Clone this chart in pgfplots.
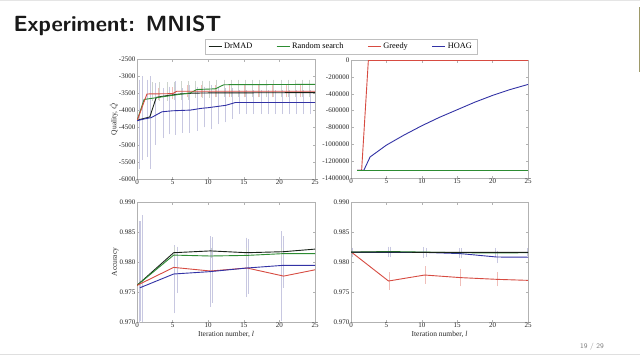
\documentclass[border=0pt]{standalone}
\usepackage{pgfplots}
\pgfplotsset{compat=1.18}
\usepackage{fontspec}
\newfontfamily\tnr{Liberation Serif}
\definecolor{cdr}{RGB}{25,35,25}
\definecolor{crs}{RGB}{45,140,50}
\definecolor{cgr}{RGB}{215,75,65}
\definecolor{cho}{RGB}{50,50,165}
\definecolor{ebb}{RGB}{200,200,225}
\definecolor{ebg}{RGB}{205,212,205}
\definecolor{ebr}{RGB}{240,190,185}
\pgfplotsset{
  panel/.style={scale only axis, anchor=south west, xmin=0, xmax=25, xtick={0,5,...,25},
    axis line style={gray!60, line width=0.5pt},
    tick style={gray!60, line width=0.4pt},
    major tick length=2.5pt, tick align=inside,
    tick label style={font=\tnr\fontsize{7}{8}\selectfont, text=black!85},
    label style={font=\tnr\fontsize{7.5}{9}\selectfont, text=black!85},
    /pgf/number format/assume math mode=true,
    /pgf/number format/1000 sep={},
    scaled y ticks=false,
    xticklabel style={inner sep=1pt},
    yticklabel style={inner sep=1.5pt},
    legend image code/.code={\draw[##1, line width=0.9pt] (0pt,0pt) -- (13pt,0pt);},
  },
  ln/.style={line width=0.9pt, color=#1, mark=none},
  eb/.style={forget plot, only marks, mark=none, mark size=0pt, color=#1, error bars/.cd, y dir=both, y explicit, error bar style={#1, line width=0.6pt}, error mark options={#1, mark size=1.6pt, line width=0.6pt}},
}
\begin{document}
\begin{tikzpicture}
\useasboundingbox (0,0) rectangle (640pt,360pt);
\fill[white] (0,0) rectangle (640pt,360pt);
\draw[gray!20] (0,359.5pt) -- (640pt,359.5pt);
\draw[gray!25] (0,6pt) -- (640pt,6pt);
\fill[black!45!olive!60] (638.5pt,288pt) rectangle (640pt,353pt);
\node[anchor=base west, font=\sffamily\bfseries\fontsize{22}{25}\selectfont, text=black!90] at (10pt,329pt) {Experiment: MNIST};
\node[font=\sffamily\fontsize{7}{8}\selectfont, text=gray] at (592pt,13pt) {19 / 29};

% ---------------- top left ----------------
\begin{axis}[panel, at={(137pt,181pt)}, width=178pt, height=120pt,
  ymin=-6000, ymax=-2500, ytick={-6000,-5500,...,-2500},
  yticklabel style={/pgf/number format/fixed},
  ylabel={Quality, $\hat{Q}$}, ylabel style={yshift=-4pt},
  legend style={at={(1.146,1.104)}, anchor=center, draw=gray!50, line width=0.4pt,
    font=\tnr\fontsize{8.3}{9}\selectfont, legend columns=4,
    /tikz/every even column/.append style={column sep=22pt}},
  legend cell align=left]
\addplot[eb=ebb] table[y error=e] {
x y e
0.3 -4400 1250
0.8 -4220 1170
1.4 -4230 1080
1.8 -4350 1300
2.6 -4100 850
3.7 -4080 680
4.6 -4000 650
5.4 -3930 730
6.4 -4000 600
7.4 -3950 650
8.4 -3950 600
9.4 -3900 550
10.4 -3900 600
11.4 -3850 500
12.4 -3850 450
13.4 -3800 400
14.4 -3760 300
15.4 -3760 300
16.4 -3760 300
17.4 -3760 300
18.4 -3760 300
19.4 -3760 300
20.4 -3760 300
21.4 -3760 300
22.4 -3760 300
23.4 -3760 300
24.4 -3760 300
};
\addplot[eb=ebg] table[y error=e] {
x y e
2.2 -3450 220
3.2 -3450 220
4.2 -3450 220
5.2 -3430 220
6.2 -3420 220
7.2 -3420 220
8.2 -3380 200
9.2 -3380 200
10.2 -3380 200
11.2 -3350 200
12.2 -3350 200
13.2 -3350 200
14.2 -3350 200
15.2 -3350 200
16.2 -3350 200
17.2 -3350 200
18.2 -3350 200
19.2 -3350 200
20.2 -3350 200
21.2 -3350 200
22.2 -3350 200
23.2 -3350 200
24.2 -3350 200
};
\addplot[eb=ebr] table[y error=e] {
x y e
3.0 -3520 130
5.0 -3500 130
7.0 -3440 130
9.0 -3440 130
11.0 -3440 130
13.0 -3440 130
15.0 -3440 130
17.0 -3440 130
19.0 -3440 130
21.0 -3440 130
23.0 -3440 130
};
\addplot[ln=cdr] coordinates {(0,-4290) (0.3,-4270) (1.8,-4190) (2.7,-3620) (3.5,-3590) (4.5,-3560) (6,-3520) (8,-3495) (10,-3490) (25,-3480)};
\addlegendentry{DrMAD}
\addplot[ln=crs] coordinates {(0,-4300) (1.0,-3680) (2,-3650) (3,-3620) (4,-3590) (5,-3560) (6,-3530) (7.5,-3490) (8.4,-3390) (11,-3370) (12.2,-3250) (25,-3240)};
\addlegendentry{Random search}
\addplot[ln=cgr] coordinates {(0,-4310) (1.4,-3520) (5,-3510) (5.6,-3440) (25,-3440)};
\addlegendentry{Greedy}
\addplot[ln=cho] coordinates {(0,-4300) (1,-4250) (2,-4210) (3.5,-4040) (5,-4010) (7.5,-3990) (9,-3940) (10,-3920) (12.5,-3850) (13.8,-3770) (25,-3770)};
\addlegendentry{HOAG}
\end{axis}

% ---------------- top right ----------------
\begin{axis}[panel, at={(351pt,182pt)}, width=177pt, height=118pt,
  ymin=-1400000, ymax=0, ytick={-1400000,-1200000,...,0},
  yticklabel style={/pgf/number format/fixed}]
\addplot[ln=cdr] coordinates {(0.85,-1310000) (25,-1310000)};
\addplot[ln=cgr] coordinates {(0.85,-1310000) (1.5,-1310000) (2.45,-5000) (25,-5000)};
\addplot[ln=cho] coordinates {(0.85,-1310000) (1.8,-1310000) (2.7,-1150000) (5,-1010000) (7.5,-890000) (10,-780000) (12.5,-680000) (15,-590000) (17.5,-500000) (20,-420000) (22.5,-350000) (25,-290000)};
\addplot[ln=crs] coordinates {(0.85,-1310000) (25,-1310000)};
\end{axis}

% ---------------- bottom left ----------------
\begin{axis}[panel, at={(137pt,38pt)}, width=178pt, height=120pt,
  ymin=0.970, ymax=0.990, ytick={0.970,0.975,...,0.990},
  yticklabel style={/pgf/number format/.cd, fixed, fixed zerofill, precision=3},
  ylabel={Accuracy}, ylabel style={yshift=-4pt},
  xlabel={Iteration number, \textit{l}}, xlabel style={yshift=1pt}]
\addplot[eb=ebb] table[y error=e] {
x y e
0.3 0.9783 0.0082
0.5 0.9785 0.0080
0.8 0.9789 0.0086
5.2 0.9771 0.0054
5.6 0.9787 0.0036
10.3 0.9784 0.0056
10.6 0.97865 0.0052
15.3 0.9791 0.0047
15.6 0.97925 0.0043
20.3 0.97765 0.0072
20.6 0.9800 0.0040
};
\addplot[eb=ebg] table[y error=e] {
x y e
5.3 0.9817 0.0006
10.4 0.9815 0.0006
15.3 0.9815 0.0005
20.3 0.9816 0.0005
};
\addplot[ln=cdr] coordinates {(0,0.9761) (5.15,0.98155) (10.3,0.98185) (15.45,0.98155) (20.6,0.98172) (25,0.98215)};
\addplot[ln=crs] coordinates {(0,0.9761) (5.15,0.98115) (10.3,0.9810) (15.45,0.9811) (20.6,0.9814) (25,0.9814)};
\addplot[ln=cgr] coordinates {(0,0.9761) (5.15,0.9791) (10.3,0.9785) (15.45,0.9790) (20.6,0.97765) (25,0.9787)};
\addplot[ln=cho] coordinates {(0.4,0.9757) (5.15,0.9780) (10.3,0.9784) (15.45,0.9790) (20.6,0.97945) (25,0.97945)};
\end{axis}

% ---------------- bottom right ----------------
\begin{axis}[panel, at={(351pt,38pt)}, width=177pt, height=120pt,
  ymin=0.970, ymax=0.990, ytick={0.970,0.975,...,0.990},
  yticklabel style={/pgf/number format/.cd, fixed, fixed zerofill, precision=3},
  xlabel={Iteration number, \textit{l}}, xlabel style={yshift=1pt}]
\addplot[eb=ebr] table[y error=e] {
x y e
5.4 0.97683 0.0012
10.5 0.97783 0.0012
15.5 0.9774 0.0012
20.6 0.97711 0.0009
};
\addplot[eb=ebb] table[y error=e] {
x y e
0.2 0.98165 0.0005
5.2 0.9817 0.0006
5.6 0.9817 0.0006
10.2 0.9816 0.0006
10.6 0.9816 0.0005
15.3 0.9815 0.0005
15.6 0.9815 0.0005
20.4 0.9816 0.0005
20.7 0.9808 0.0007
24.9 0.9816 0.0004
};
\addplot[ln=cgr] coordinates {(0,0.98170) (5.3,0.97683) (10.4,0.97783) (15.45,0.97740) (20.6,0.97711) (25,0.97694)};
\addplot[ln=cho] coordinates {(0,0.98160) (5.3,0.98160) (10.4,0.98160) (15.45,0.98140) (20.6,0.98083) (25,0.98080)};
\addplot[ln=crs] coordinates {(0,0.98165) (5.3,0.98175) (10.4,0.98165) (15.45,0.98155) (20.6,0.98150) (25,0.98155)};
\addplot[ln=cdr] coordinates {(0,0.98165) (5.3,0.98165) (10.4,0.98160) (15.45,0.98160) (20.6,0.98160) (25,0.98160)};
\end{axis}
\end{tikzpicture}
\end{document}
